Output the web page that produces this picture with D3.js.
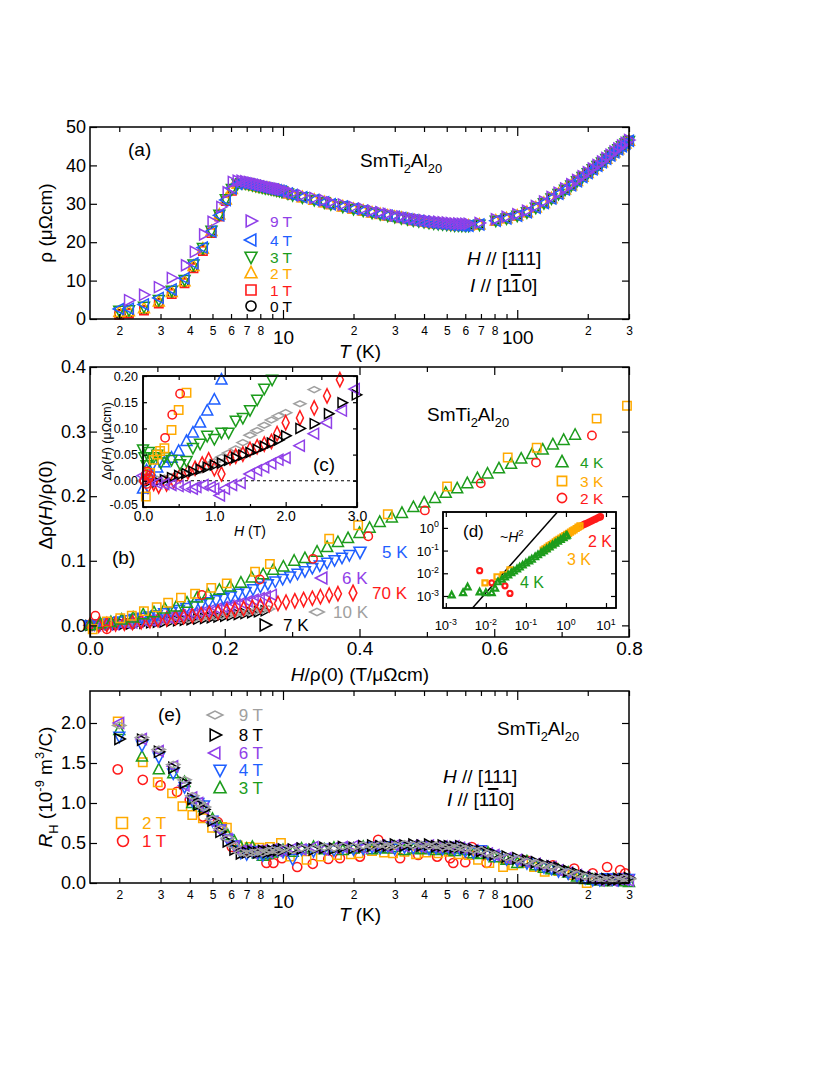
<!DOCTYPE html>
<html>
<head>
<meta charset="utf-8">
<script src="https://cdn.jsdelivr.net/npm/d3@7"></script>
<style>
  body { margin: 0; background: #fff; }
  svg text { font-family: "Liberation Sans", Arial, Helvetica, sans-serif; }
</style>
</head>
<body>
<svg id="fig" width="830" height="1075"></svg>
<script>
// ---------- panel (a): rho vs T ----------
var tA_low   = [2.0, 2.2, 2.55, 2.95, 3.35, 3.8, 4.15, 4.55, 4.95, 5.35, 5.7, 6.05];
var rho0T_low = [1.3, 1.5, 2.3, 4.2, 6.8, 9.6, 13.5, 18.0, 22.7, 27.0, 31.0, 33.6];
var rho1T_low = [1.1, 1.4, 2.2, 4.0, 6.5, 9.3, 13.2, 17.7, 22.4, 26.7, 30.7, 33.4];
var rho2T_low = [1.8, 2.0, 2.8, 4.5, 7.0, 9.8, 13.8, 18.3, 22.9, 27.2, 31.1, 33.8];
var rho3T_low = [2.2, 2.3, 3.2, 5.0, 7.4, 10.2, 14.2, 18.5, 23.0, 27.2, 31.2, 33.9];
var rho4T_low = [2.6, 2.7, 3.8, 5.5, 7.7, 10.6, 14.5, 18.6, 22.8, 27.0, 31.0, 34.0];
var tA9_low   = [2.2, 2.55, 2.95, 3.35, 3.85, 4.2, 4.6, 5.0, 5.45, 5.8, 6.1];
var rho9T_low = [4.9, 6.3, 8.3, 10.7, 14.0, 17.5, 22.0, 25.3, 29.2, 33.0, 35.7];

var tA_high = [6.4, 6.65, 6.9, 7.15, 7.4, 7.65, 7.9, 8.15, 8.4, 8.65, 8.9, 9.15, 9.4, 9.65, 9.9,
  10.5, 11.0, 12.1, 13.6, 15.0,
  16, 18, 20, 22, 24, 26, 28, 30, 32, 34, 36, 38, 40, 42, 44, 46, 48, 50, 52, 54, 56, 58, 60, 62,
  69, 81, 90,
  100, 110, 120, 130, 140, 150, 160, 170, 180, 190, 200, 210, 220, 230, 240, 250, 260, 270, 280, 290, 300];
// fields 0-4 T overlap above the peak
var rhoHigh = [35.2, 35.4, 35.3, 35.1, 34.9, 34.7, 34.5, 34.3, 34.1, 34.0, 33.8, 33.7, 33.5, 33.4, 33.2,
  32.7, 32.3, 31.7, 31.0, 30.4,
  29.9, 29.3, 28.7, 28.2, 27.7, 27.3, 26.9, 26.6, 26.3, 26.0, 25.7, 25.5, 25.3, 25.1, 24.9, 24.8, 24.7, 24.6, 24.5, 24.4, 24.4, 24.3, 24.3, 24.3,
  24.6, 25.6, 26.2,
  26.9, 27.8, 29.0, 30.2, 31.4, 32.6, 33.7, 34.8, 35.9, 37.0, 38.0, 39.0, 39.9, 40.8, 41.7, 42.6, 43.4, 44.2, 45.0, 45.7, 46.4];
var rho9T_high = [36.0, 36.0, 35.9, 35.7, 35.5, 35.3, 35.1, 34.9, 34.7, 34.5, 34.3, 34.2, 34.0, 33.9, 33.7,
  33.2, 32.8, 32.2, 31.5, 30.9,
  30.4, 29.8, 29.2, 28.7, 28.2, 27.8, 27.4, 27.0, 26.7, 26.4, 26.1, 25.9, 25.7, 25.5, 25.4, 25.3, 25.2, 25.1, 25.0, 24.9, 24.9, 24.8, 24.8, 24.8,
  25.0, 26.0, 26.6,
  27.3, 28.2, 29.4, 30.6, 31.8, 32.9, 34.0, 35.1, 36.2, 37.2, 38.2, 39.2, 40.1, 41.0, 41.9, 42.8, 43.6, 44.4, 45.2, 45.9, 46.6];

// ---------- panel (b): drho/rho0 vs H/rho0 ----------
var hB4 = [0, 0.015, 0.031, 0.047, 0.064, 0.079, 0.095, 0.111, 0.128, 0.144, 0.159, 0.175, 0.192, 0.208, 0.224, 0.24, 0.257, 0.272, 0.287, 0.303,
  0.319, 0.337, 0.352, 0.368, 0.383, 0.4, 0.415, 0.43, 0.448, 0.463, 0.48, 0.496, 0.512, 0.528, 0.545, 0.56, 0.575, 0.59, 0.607, 0.625,
  0.64, 0.656, 0.672, 0.687, 0.703, 0.72];
var dr4 = [0, 0.003, 0.005, 0.009, 0.012, 0.017, 0.02, 0.026, 0.029, 0.035, 0.043, 0.048, 0.055, 0.06, 0.066, 0.074, 0.079, 0.086, 0.091, 0.1,
  0.104, 0.114, 0.121, 0.129, 0.135, 0.143, 0.151, 0.16, 0.167, 0.174, 0.183, 0.19, 0.197, 0.205, 0.212, 0.22, 0.228, 0.235, 0.243, 0.25,
  0.258, 0.265, 0.272, 0.28, 0.287, 0.295];
var hB3 = [0.004, 0.025, 0.045, 0.062, 0.08, 0.099, 0.116, 0.135, 0.156, 0.18, 0.203, 0.245, 0.267, 0.355, 0.398, 0.442, 0.53, 0.62, 0.663, 0.752, 0.797];
var dr3 = [-0.006, 0.006, 0.011, 0.015, 0.022, 0.028, 0.035, 0.043, 0.049, 0.058, 0.065, 0.083, 0.095, 0.134, 0.155, 0.172, 0.215, 0.26, 0.275, 0.32, 0.34];
var hB2 = [0.008, 0.025, 0.166, 0.252, 0.331, 0.413, 0.497, 0.58, 0.662, 0.745];
var dr2 = [0.015, -0.006, 0.047, 0.071, 0.103, 0.138, 0.178, 0.22, 0.252, 0.294];
var hB5 = [0, 0.011, 0.022, 0.033, 0.044, 0.055, 0.066, 0.077, 0.088, 0.099, 0.11, 0.121, 0.132, 0.143, 0.154, 0.165, 0.176, 0.187,
  0.198, 0.209, 0.22, 0.231, 0.242, 0.253, 0.264, 0.275, 0.286, 0.297, 0.308, 0.319, 0.33, 0.341, 0.352, 0.363, 0.374, 0.385];
var dr5 = [0, 0.002, 0.003, 0.005, 0.006, 0.008, 0.01, 0.012, 0.014, 0.016, 0.019, 0.021, 0.024, 0.027, 0.03, 0.033, 0.036, 0.039,
  0.042, 0.045, 0.049, 0.052, 0.056, 0.06, 0.064, 0.068, 0.072, 0.076, 0.08, 0.084, 0.089, 0.093, 0.097, 0.101, 0.105, 0.109];
var hB6 = [0, 0.009, 0.018, 0.027, 0.036, 0.045, 0.054, 0.063, 0.072, 0.081, 0.09, 0.099, 0.108, 0.117, 0.126, 0.135, 0.144, 0.153,
  0.162, 0.171, 0.18, 0.189, 0.198, 0.207, 0.216, 0.225, 0.234, 0.243, 0.252, 0.261, 0.27];
var dr6 = [0, 0.0002, 0.0007, 0.0012, 0.0019, 0.0027, 0.0036, 0.0046, 0.0056, 0.0068, 0.008, 0.0093, 0.0107, 0.0122, 0.0137, 0.0153,
  0.017, 0.0187, 0.0205, 0.0224, 0.0243, 0.0263, 0.0284, 0.0305, 0.0327, 0.035, 0.0373, 0.0397, 0.0421, 0.0446, 0.0472];
var hB7 = [0, 0.01, 0.02, 0.03, 0.04, 0.05, 0.06, 0.07, 0.08, 0.09, 0.1, 0.11, 0.12, 0.13, 0.14, 0.15, 0.16, 0.17, 0.18, 0.19,
  0.2, 0.21, 0.22, 0.23, 0.24, 0.25, 0.26];
var dr7 = [0, 0.0003, 0.0006, 0.001, 0.0014, 0.0018, 0.0023, 0.0028, 0.0034, 0.004, 0.0047, 0.0054, 0.0062, 0.007, 0.0079, 0.0088,
  0.0098, 0.0108, 0.0119, 0.013, 0.0142, 0.0155, 0.0168, 0.0182, 0.0196, 0.021, 0.0225];
var hB10 = [0.005, 0.015, 0.025, 0.035, 0.045, 0.055, 0.065, 0.075, 0.085, 0.095, 0.105, 0.115, 0.125, 0.135, 0.145, 0.155, 0.165,
  0.175, 0.185, 0.195, 0.205, 0.215, 0.225, 0.235, 0.245, 0.255, 0.265];
var dr10 = [0.0002, 0.0005, 0.0009, 0.0013, 0.0018, 0.0023, 0.0029, 0.0035, 0.0042, 0.0049, 0.0057, 0.0065, 0.0074, 0.0083, 0.0093,
  0.0103, 0.0114, 0.0125, 0.0137, 0.0149, 0.0162, 0.0176, 0.019, 0.0205, 0.022, 0.0236, 0.0255];
var hB70 = [0, 0.013, 0.025, 0.038, 0.051, 0.063, 0.076, 0.089, 0.101, 0.114, 0.127, 0.139, 0.152, 0.165, 0.177, 0.19, 0.203, 0.215,
  0.228, 0.241, 0.253, 0.266, 0.279, 0.291, 0.304, 0.317, 0.33, 0.342, 0.355, 0.368];
var dr70 = [0, 0.0005, 0.0012, 0.0022, 0.0033, 0.0045, 0.0058, 0.0072, 0.0087, 0.0102, 0.0118, 0.0134, 0.0151, 0.0168, 0.0186, 0.0204,
  0.0222, 0.0241, 0.026, 0.028, 0.030, 0.032, 0.034, 0.036, 0.038, 0.040, 0.042, 0.0445, 0.0468, 0.049];

// ---------- inset (c): drho vs H ----------
var hC2 = [0.02, 0.04, 0.05, 0.06, 0.08, 0.1, 0.31, 0.41, 0.52];
var dC2 = [0.0, 0.012, -0.006, 0.018, 0.005, 0.01, 0.082, 0.126, 0.166];
var hC3 = [0.04, 0.1, 0.15, 0.2, 0.24, 0.3, 0.4, 0.5, 0.61];
var dC3 = [-0.03, 0.015, 0.04, 0.05, 0.057, 0.062, 0.097, 0.135, 0.168];
var hC4 = [0.0, 0.05, 0.1, 0.2, 0.3, 0.4, 0.5, 0.61, 0.7, 0.8, 0.9, 1.0, 1.1];
var dC4 = [-0.015, 0.02, 0.018, 0.025, 0.035, 0.044, 0.057, 0.076, 0.092, 0.111, 0.134, 0.155, 0.193];
var hC5 = [0.0, 0.02, 0.05, 0.08, 0.1, 0.15, 0.2, 0.25, 0.3, 0.4, 0.52, 0.61, 0.7, 0.8, 0.9, 1.0, 1.1, 1.2, 1.3, 1.4, 1.5, 1.6, 1.7, 1.81];
var dC5 = [0.06, 0.045, 0.03, 0.055, 0.04, 0.045, 0.05, 0.035, 0.045, 0.04, 0.032, 0.038, 0.063, 0.071, 0.086, 0.08, 0.092, 0.092,
  0.115, 0.12, 0.135, 0.155, 0.176, 0.193];
var hC6 = [0.0, 0.05, 0.1, 0.2, 0.3, 0.4, 0.5, 0.6, 0.7, 0.75, 0.85, 0.95, 1.0, 1.08, 1.15, 1.25, 1.37, 1.5, 1.6, 1.7,
  1.8, 1.9, 2.0, 2.2, 2.4, 2.58, 2.79, 2.97];
var dC6 = [0.01, 0.005, 0.0, -0.004, -0.006, -0.008, -0.01, -0.012, -0.015, -0.012, -0.008, -0.012, -0.015, -0.028, -0.015, -0.008,
  -0.004, 0.013, 0.02, 0.026, 0.033, 0.04, 0.044, 0.067, 0.09, 0.111, 0.134, 0.175];
var hC7 = [0.1, 0.2, 0.3, 0.4, 0.5, 0.6, 0.7, 0.8, 0.9, 1.0, 1.1, 1.2, 1.3, 1.4, 1.5, 1.6, 1.7, 1.8, 1.9, 2.0, 2.2, 2.4, 2.6, 2.79, 2.99];
var dC7 = [0.0, -0.002, 0.002, 0.006, 0.01, 0.014, 0.018, 0.022, 0.026, 0.03, 0.034, 0.039, 0.044, 0.049, 0.054, 0.06, 0.066,
  0.072, 0.078, 0.086, 0.1, 0.109, 0.128, 0.149, 0.164];
var hC10 = [0.0, 0.1, 0.2, 0.3, 0.4, 0.5, 0.6, 0.7, 0.8, 0.9, 1.0, 1.1, 1.2, 1.3, 1.4, 1.5, 1.6, 1.7, 1.8, 1.9, 2.0, 2.2, 2.4];
var dC10 = [0, 0.001, 0.003, 0.005, 0.008, 0.011, 0.014, 0.017, 0.02, 0.028, 0.036, 0.045, 0.053, 0.061, 0.073, 0.087, 0.096,
  0.106, 0.116, 0.124, 0.13, 0.147, 0.174];
var hC70 = [0.0, 0.07, 0.15, 0.22, 0.33, 0.43, 0.52, 0.63, 0.73, 0.83, 0.92, 1.0, 1.1, 1.22, 1.3, 1.4, 1.5, 1.6, 1.7, 1.8,
  1.88, 2.0, 2.2, 2.4, 2.58, 2.76];
var dC70 = [0.0, -0.01, -0.005, -0.01, -0.006, 0.0, 0.01, 0.017, 0.024, 0.032, 0.04, 0.023, 0.013, 0.044, 0.047, 0.051, 0.06,
  0.065, 0.07, 0.075, 0.09, 0.111, 0.12, 0.139, 0.162, 0.193];

// ---------- inset (d): log-log ----------
var dGx = [0.0014, 0.0027, 0.0035, 0.007, 0.01, 0.014, 0.017, 0.02, 0.025, 0.03, 0.036, 0.043, 0.05, 0.06, 0.07, 0.083, 0.1,
  0.12, 0.14, 0.17, 0.2, 0.24, 0.28, 0.33, 0.39, 0.46, 0.54, 0.63, 0.74, 0.87, 1.0, 1.06];
var dGy = [0.0011, 0.0014, 0.0025, 0.0015, 0.0014, 0.0014, 0.0022, 0.0042, 0.0054, 0.0068, 0.0084, 0.0105, 0.0125, 0.0155,
  0.0187, 0.023, 0.0285, 0.035, 0.042, 0.053, 0.065, 0.08, 0.097, 0.118, 0.144, 0.176, 0.213, 0.255, 0.31, 0.37, 0.44, 0.47];
var dOx = [0.0095, 0.019, 0.027, 0.04, 0.27, 0.3, 0.34, 0.38, 0.43, 0.48, 0.54, 0.6, 0.67, 0.75, 0.84, 0.94, 1.05, 1.17, 1.3,
  1.45, 1.6, 1.8, 2.0, 2.24];
var dOy = [0.0038, 0.007, 0.0085, 0.014, 0.105, 0.12, 0.14, 0.16, 0.185, 0.21, 0.245, 0.28, 0.315, 0.355, 0.405, 0.46, 0.52,
  0.58, 0.65, 0.73, 0.82, 0.94, 1.07, 1.23];
var dRx = [0.007, 0.014, 0.03, 0.04, 2.1, 2.4, 2.7, 3.0, 3.4, 3.8, 4.3, 4.8, 5.4, 6.1, 6.8, 7.3];
var dRy = [0.013, 0.0038, 0.0028, 0.0013, 1.1, 1.24, 1.36, 1.49, 1.64, 1.81, 2.0, 2.2, 2.43, 2.7, 2.95, 3.1];
var h2x = [0.0047, 0.6];
var h2y = [0.0003, 4.8];

// ---------- panel (e): Hall coefficient ----------
var tE = [2.0, 2.5, 2.95, 3.4, 3.8, 4.1, 4.35, 4.6, 5.0, 5.4, 5.8, 6.2, 6.6, 7.0, 7.4, 7.8, 8.2, 8.6, 9.0, 9.5,
  10, 11, 12, 13.5, 15, 16.5, 18, 20, 22, 24, 26, 28, 30, 33, 36, 39, 42, 45, 48, 51,
  54, 57, 60, 65, 70, 75, 80, 90, 100, 110, 120, 130, 140, 150, 165, 180, 195, 210, 225, 240, 255, 270, 285, 300];
var rE8 = [1.80, 1.79, 1.64, 1.44, 1.25, 1.05, 0.98, 0.92, 0.78, 0.64, 0.52, 0.42, 0.37, 0.38, 0.39, 0.38, 0.40, 0.39, 0.40, 0.41,
  0.42, 0.42, 0.43, 0.42, 0.44, 0.43, 0.45, 0.44, 0.46, 0.47, 0.46, 0.47, 0.48, 0.47, 0.48, 0.47, 0.48, 0.46, 0.47, 0.46,
  0.45, 0.46, 0.44, 0.42, 0.40, 0.38, 0.36, 0.33, 0.31, 0.28, 0.26, 0.23, 0.21, 0.19, 0.15, 0.12, 0.09, 0.07, 0.05, 0.05,
  0.04, 0.05, 0.05, 0.06];
var rE9 = [1.97, 1.82, 1.67, 1.48, 1.29, 1.09, 1.0, 0.95, 0.8, 0.68, 0.56, 0.46, 0.38, 0.37, 0.38, 0.39, 0.38, 0.40, 0.41, 0.40,
  0.43, 0.41, 0.44, 0.43, 0.45, 0.44, 0.46, 0.45, 0.47, 0.46, 0.48, 0.46, 0.47, 0.49, 0.47, 0.48, 0.46, 0.47, 0.45, 0.46,
  0.44, 0.45, 0.43, 0.41, 0.41, 0.37, 0.35, 0.32, 0.30, 0.27, 0.25, 0.22, 0.2, 0.17, 0.14, 0.11, 0.08, 0.06, 0.06, 0.04,
  0.05, 0.04, 0.06, 0.05];
var rE6 = [2.0, 1.80, 1.65, 1.46, 1.22, 1.07, 1.0, 0.93, 0.76, 0.66, 0.55, 0.46, 0.40, 0.41, 0.38, 0.40, 0.41, 0.39, 0.42, 0.40,
  0.41, 0.43, 0.42, 0.45, 0.42, 0.44, 0.45, 0.46, 0.44, 0.46, 0.47, 0.45, 0.47, 0.46, 0.47, 0.45, 0.47, 0.45, 0.46, 0.44,
  0.46, 0.44, 0.43, 0.41, 0.39, 0.37, 0.35, 0.31, 0.29, 0.26, 0.24, 0.21, 0.2, 0.16, 0.13, 0.1, 0.08, 0.05, 0.03, 0.04,
  0.03, 0.05, 0.04, 0.03];
var rE4 = [1.83, 1.72, 1.57, 1.37, 1.2, 1.03, 1.0, 0.97, 0.78, 0.67, 0.55, 0.47, 0.38, 0.36, 0.40, 0.37, 0.35, 0.38, 0.39, 0.41,
  0.39, 0.30, 0.42, 0.40, 0.43, 0.41, 0.44, 0.42, 0.43, 0.45, 0.44, 0.46, 0.43, 0.45, 0.44, 0.46, 0.43, 0.44, 0.43, 0.45,
  0.42, 0.43, 0.40, 0.38, 0.41, 0.36, 0.34, 0.30, 0.28, 0.25, 0.23, 0.2, 0.18, 0.15, 0.12, 0.09, 0.06, 0.04, 0.04, 0.06,
  0.05, 0.04, 0.06, 0.05];
var rE3 = [1.91, 1.58, 1.42, 1.37, 1.26, 1.0, 0.98, 0.95, 0.8, 0.7, 0.6, 0.52, 0.45, 0.43, 0.45, 0.37, 0.34, 0.36, 0.38, 0.40,
  0.41, 0.39, 0.43, 0.45, 0.42, 0.44, 0.41, 0.43, 0.45, 0.42, 0.44, 0.43, 0.45, 0.41, 0.43, 0.42, 0.44, 0.41, 0.43, 0.42,
  0.40, 0.43, 0.41, 0.37, 0.36, 0.38, 0.32, 0.29, 0.25, 0.27, 0.22, 0.19, 0.17, 0.16, 0.13, 0.08, 0.05, 0.04, 0.03, 0.02,
  0.04, 0.03, 0.02, 0.01];
var tE2 = [1.97, 2.52, 2.92, 3.36, 3.72, 4.1, 4.55, 4.98, 5.5, 5.76, 6.4, 7.2, 7.95, 8.8, 9.8, 10.7, 12.6, 14.5, 17, 19.5,
  21, 24, 27, 29.5, 33, 37, 41, 46, 51, 56, 62, 68, 76, 87, 96, 106, 118, 131, 150, 172, 198, 225, 255, 285];
var rE2 = [2.02, 1.51, 1.26, 1.12, 0.96, 0.85, 0.81, 0.69, 0.7, 0.69, 0.47, 0.45, 0.44, 0.45, 0.5, 0.33, 0.29, 0.33, 0.35, 0.36,
  0.37, 0.4, 0.38, 0.37, 0.39, 0.36, 0.38, 0.37, 0.39, 0.36, 0.35, 0.29, 0.25, 0.2, 0.22, 0.25, 0.2, 0.14, 0.15, 0.1,
  0.0, 0.04, 0.06, 0.03];
var tE1 = [1.97, 2.52, 3.0, 3.53, 4.0, 4.55, 5.27, 6.05, 6.9, 8.5, 9.1, 9.9, 11.5, 13.4, 15.6, 17.5, 21.3, 25.5, 31.6, 37.8,
  45.5, 51.7, 53.3, 60, 64, 74, 88, 110, 142, 175, 210, 242, 275, 289];
var rE1 = [1.42, 1.29, 1.22, 1.14, 1.04, 0.83, 0.76, 0.45, 0.41, 0.25, 0.25, 0.31, 0.2, 0.24, 0.3, 0.31, 0.33, 0.54, 0.31, 0.35,
  0.33, 0.31, 0.25, 0.26, 0.45, 0.25, 0.3, 0.28, 0.22, 0.18, 0.12, 0.2, 0.16, 0.12];

var logMinor = [2, 3, 4, 5, 6, 7, 8, 9, 20, 30, 40, 50, 60, 70, 80, 90, 200, 300];
var logMajor = [10, 100];

var COL = { k: '#000000', r: '#ff1a1a', o: '#ffaa00', g: '#1c9c1c', b: '#1f5fff', p: '#9040e8', gy: '#a0a0a0' };

var svg = d3.select('#fig');

// scales
var xA = d3.scaleLog().domain([1.5, 300]).range([90, 629]);
var yA = d3.scaleLinear().domain([0, 50]).range([319, 127]);
var xB = d3.scaleLinear().domain([0, 0.8]).range([90, 629]);
var yB = d3.scaleLinear().domain([-0.018, 0.4]).range([637, 367]);
var xC = d3.scaleLinear().domain([0, 3]).range([143, 357]);
var yC = d3.scaleLinear().domain([-0.05, 0.2]).range([507, 376]);
var xD = d3.scaleLog().domain([Math.pow(10, -3.07), Math.pow(10, 1.25)]).range([443, 616]);
var yD = d3.scaleLog().domain([Math.pow(10, -3.53), Math.pow(10, 0.7)]).range([608, 512]);
var xE = d3.scaleLog().domain([1.5, 300]).range([90, 629]);
var yE = d3.scaleLinear().domain([0, 2.4]).range([883, 691]);

function symbol(type, s) {
  var a = s * 0.42;
  switch (type) {
    case 'circle': return 'M' + a + ',0A' + a + ',' + a + ' 0 1,1 ' + (-a) + ',0A' + a + ',' + a + ' 0 1,1 ' + a + ',0Z';
    case 'square': return 'M' + (-a) + ',' + (-a) + 'H' + a + 'V' + a + 'H' + (-a) + 'Z';
    case 'up': return 'M0,' + (-0.55 * s) + 'L' + (0.5 * s) + ',' + (0.4 * s) + 'L' + (-0.5 * s) + ',' + (0.4 * s) + 'Z';
    case 'down': return 'M0,' + (0.55 * s) + 'L' + (0.5 * s) + ',' + (-0.4 * s) + 'L' + (-0.5 * s) + ',' + (-0.4 * s) + 'Z';
    case 'left': return 'M' + (-0.55 * s) + ',0L' + (0.4 * s) + ',' + (-0.5 * s) + 'L' + (0.4 * s) + ',' + (0.5 * s) + 'Z';
    case 'right': return 'M' + (0.55 * s) + ',0L' + (-0.4 * s) + ',' + (-0.5 * s) + 'L' + (-0.4 * s) + ',' + (0.5 * s) + 'Z';
    case 'tall': return 'M0,' + (-0.65 * s) + 'L' + (0.32 * s) + ',0L0,' + (0.65 * s) + 'L' + (-0.32 * s) + ',0Z';
    case 'wide': return 'M' + (-0.6 * s) + ',0L0,' + (-0.3 * s) + 'L' + (0.6 * s) + ',0L0,' + (0.3 * s) + 'Z';
  }
}

function plot(g, xs, ys, sx, sy, type, color, size, sw) {
  g.append('g').selectAll('path')
    .data(d3.zip(xs, ys))
    .join('path')
    .attr('d', symbol(type, size))
    .attr('transform', function(d) { return 'translate(' + sx(d[0]) + ',' + sy(d[1]) + ')'; })
    .attr('fill', 'none')
    .attr('stroke', color)
    .attr('stroke-width', sw || 1.5);
}

function legendRow(g, mx, my, type, color, size, label, tx, anchor, fs) {
  g.append('path').attr('d', symbol(type, size))
    .attr('transform', 'translate(' + mx + ',' + my + ')')
    .attr('fill', 'none').attr('stroke', color).attr('stroke-width', 1.6);
  g.append('text').attr('x', tx).attr('y', my + fs * 0.36)
    .attr('text-anchor', anchor).attr('font-size', fs).attr('fill', color).text(label);
}

function rich(g, x, y, parts, size, o) {
  o = o || {};
  var t = g.append('text').attr('x', x).attr('y', y)
    .attr('font-size', size).attr('fill', o.fill || '#000')
    .attr('text-anchor', o.anchor || 'start');
  if (o.rot) t.attr('transform', 'rotate(' + o.rot + ',' + x + ',' + y + ')');
  var cur = 0;
  parts.forEach(function(p) {
    if (typeof p === 'string') p = { t: p };
    var off = p.sub ? size * 0.3 : p.sup ? -size * 0.42 : 0;
    var s = t.append('tspan').attr('dy', off - cur).text(p.t);
    cur = off;
    if (p.sub || p.sup) s.attr('font-size', size * 0.68);
    if (p.it) s.attr('font-style', 'italic');
    if (p.ol) s.style('text-decoration', 'overline');
  });
  return t;
}

function styleAxis(sel, fs) {
  sel.select('.domain').remove();
  sel.selectAll('line').attr('stroke', '#000').attr('stroke-width', 1.2);
  sel.selectAll('text').attr('font-size', fs)
    .attr('font-family', '"Liberation Sans", Arial, sans-serif').attr('fill', '#000');
}

function frame(g, x0, y0, x1, y1, fill) {
  g.append('rect').attr('x', x0).attr('y', y0).attr('width', x1 - x0).attr('height', y1 - y0)
    .attr('fill', fill || 'none').attr('stroke', '#000').attr('stroke-width', 1.5);
}

function logAxis(g, sx, yBot, yTop) {
  var lab = function(v) { return (v === 9 || v === 90) ? '' : String(v).charAt(0); };
  g.append('g').attr('transform', 'translate(0,' + yBot + ')')
    .call(d3.axisBottom(sx).tickValues(logMinor).tickSize(-5).tickPadding(7).tickFormat(lab))
    .call(function(s) { styleAxis(s, 12); });
  g.append('g').attr('transform', 'translate(0,' + yBot + ')')
    .call(d3.axisBottom(sx).tickValues(logMajor).tickSize(-9).tickPadding(12).tickFormat(d3.format('d')))
    .call(function(s) { styleAxis(s, 19); });
  g.append('g').attr('transform', 'translate(0,' + yTop + ')')
    .call(d3.axisTop(sx).tickValues(logMinor).tickSize(-5).tickFormat(''))
    .call(function(s) { styleAxis(s, 12); });
  g.append('g').attr('transform', 'translate(0,' + yTop + ')')
    .call(d3.axisTop(sx).tickValues(logMajor).tickSize(-9).tickFormat(''))
    .call(function(s) { styleAxis(s, 12); });
}

function yAxes(g, sy, vals, xl, xr, fmt, fs, len) {
  g.append('g').attr('transform', 'translate(' + xl + ',0)')
    .call(d3.axisLeft(sy).tickValues(vals).tickSize(-len).tickPadding(4).tickFormat(fmt))
    .call(function(s) { styleAxis(s, fs); });
  g.append('g').attr('transform', 'translate(' + xr + ',0)')
    .call(d3.axisRight(sy).tickValues(vals).tickSize(-len).tickFormat(''))
    .call(function(s) { styleAxis(s, fs); });
}

// =================== (a) ===================
var gA = svg.append('g');
plot(gA, tA_low, rho0T_low, xA, yA, 'circle', COL.k, 10);
plot(gA, tA_high, rhoHigh, xA, yA, 'circle', COL.k, 10);
plot(gA, tA_low, rho1T_low, xA, yA, 'square', COL.r, 10);
plot(gA, tA_high, rhoHigh, xA, yA, 'square', COL.r, 10);
plot(gA, tA_low, rho2T_low, xA, yA, 'up', COL.o, 11);
plot(gA, tA_high, rhoHigh, xA, yA, 'up', COL.o, 11);
plot(gA, tA_low, rho3T_low, xA, yA, 'down', COL.g, 11);
plot(gA, tA_high, rhoHigh, xA, yA, 'down', COL.g, 11);
plot(gA, tA_low, rho4T_low, xA, yA, 'left', COL.b, 11);
plot(gA, tA_high, rhoHigh, xA, yA, 'left', COL.b, 11);
plot(gA, tA9_low, rho9T_low, xA, yA, 'right', COL.p, 11);
plot(gA, tA_high, rho9T_high, xA, yA, 'right', COL.p, 11);

frame(gA, 90, 127, 629, 319);
logAxis(gA, xA, 319, 127);
yAxes(gA, yA, [0, 10, 20, 30, 40, 50], 90, 629, d3.format('d'), 18, 7);

var legA = [['right', COL.p, '9 T', 221], ['left', COL.b, '4 T', 240], ['down', COL.g, '3 T', 257],
            ['up', COL.o, '2 T', 273], ['square', COL.r, '1 T', 290], ['circle', COL.k, '0 T', 306]];
legA.forEach(function(r) { legendRow(gA, 251, r[3], r[0], r[1], 12, r[2], 292, 'end', 15.5); });

rich(gA, 128, 156, ['(a)'], 19);
rich(gA, 360, 167, ['SmTi', { t: '2', sub: 1 }, 'Al', { t: '20', sub: 1 }], 19);
rich(gA, 467, 265, [{ t: 'H', it: 1 }, ' // [111]'], 19);
rich(gA, 470, 292, [{ t: 'I', it: 1 }, ' // [1', { t: '1', ol: 1 }, '0]'], 19);
rich(gA, 360, 358, [{ t: 'T', it: 1 }, ' (K)'], 19, { anchor: 'middle' });
rich(gA, 52, 223, ['ρ (μΩcm)'], 19, { anchor: 'middle', rot: -90 });

// =================== (b) ===================
var gB = svg.append('g');
plot(gB, hB7, dr7, xB, yB, 'right', COL.k, 10);
plot(gB, hB10, dr10, xB, yB, 'wide', COL.gy, 10);
plot(gB, hB6, dr6, xB, yB, 'left', COL.p, 11);
plot(gB, hB5, dr5, xB, yB, 'down', COL.b, 11);
plot(gB, hB70, dr70, xB, yB, 'tall', COL.r, 11);
plot(gB, hB4, dr4, xB, yB, 'up', COL.g, 11);
plot(gB, hB3, dr3, xB, yB, 'square', COL.o, 10);
plot(gB, hB2, dr2, xB, yB, 'circle', COL.r, 10);

frame(gB, 90, 367, 629, 637);
gB.append('g').attr('transform', 'translate(0,637)')
  .call(d3.axisBottom(xB).tickValues([0, 0.2, 0.4, 0.6, 0.8]).tickSize(-8).tickPadding(5).tickFormat(d3.format('.1f')))
  .call(function(s) { styleAxis(s, 19); });
gB.append('g').attr('transform', 'translate(0,637)')
  .call(d3.axisBottom(xB).tickValues([0.1, 0.3, 0.5, 0.7]).tickSize(-5).tickFormat(''))
  .call(function(s) { styleAxis(s, 12); });
gB.append('g').attr('transform', 'translate(0,367)')
  .call(d3.axisTop(xB).tickValues([0, 0.2, 0.4, 0.6, 0.8]).tickSize(-8).tickFormat(''))
  .call(function(s) { styleAxis(s, 12); });
gB.append('g').attr('transform', 'translate(0,367)')
  .call(d3.axisTop(xB).tickValues([0.1, 0.3, 0.5, 0.7]).tickSize(-5).tickFormat(''))
  .call(function(s) { styleAxis(s, 12); });
yAxes(gB, yB, [0, 0.1, 0.2, 0.3, 0.4], 90, 629, d3.format('.1f'), 18, 7);

legendRow(gB, 360, 552, 'down', COL.b, 12, '5 K', 382, 'start', 17);
legendRow(gB, 322, 578, 'left', COL.p, 12, '6 K', 342, 'start', 17);
legendRow(gB, 353, 593, 'tall', COL.r, 12, '70 K', 372, 'start', 17);
legendRow(gB, 317, 612, 'wide', COL.gy, 12, '10 K', 333, 'start', 17);
legendRow(gB, 265, 625, 'right', COL.k, 12, '7 K', 283, 'start', 17);
legendRow(gB, 562, 462, 'up', COL.g, 12, '4 K', 580, 'start', 15.5);
legendRow(gB, 562, 481, 'square', COL.o, 11, '3 K', 580, 'start', 15.5);
legendRow(gB, 562, 498, 'circle', COL.r, 11, '2 K', 580, 'start', 15.5);

rich(gB, 112, 564, ['(b)'], 19);
rich(gB, 427, 421, ['SmTi', { t: '2', sub: 1 }, 'Al', { t: '20', sub: 1 }], 19);
rich(gB, 360, 681, [{ t: 'H', it: 1 }, '/ρ(0) (T/μΩcm)'], 19, { anchor: 'middle' });
rich(gB, 52, 505, ['Δρ(', { t: 'H', it: 1 }, ')/ρ(0)'], 19, { anchor: 'middle', rot: -90 });

// ---- inset (c) ----
var gC = svg.append('g');
frame(gC, 143, 376, 357, 507, '#fff');
gC.append('line').attr('x1', xC(0)).attr('x2', xC(3)).attr('y1', yC(0)).attr('y2', yC(0))
  .attr('stroke', '#000').attr('stroke-width', 1.1).attr('stroke-dasharray', '3,3');
plot(gC, hC10, dC10, xC, yC, 'wide', COL.gy, 10);
plot(gC, hC70, dC70, xC, yC, 'tall', COL.r, 11);
plot(gC, hC7, dC7, xC, yC, 'right', COL.k, 10);
plot(gC, hC6, dC6, xC, yC, 'left', COL.p, 11);
plot(gC, hC4, dC4, xC, yC, 'up', COL.b, 11);
plot(gC, hC5, dC5, xC, yC, 'down', COL.g, 11);
plot(gC, hC3, dC3, xC, yC, 'square', COL.o, 10);
plot(gC, hC2, dC2, xC, yC, 'circle', COL.r, 10);
frame(gC, 143, 376, 357, 507);
var fmt2 = function(v) { return v.toFixed(2); };
gC.append('g').attr('transform', 'translate(143,0)')
  .call(d3.axisLeft(yC).tickValues([-0.05, 0, 0.05, 0.1, 0.15, 0.2]).tickSize(-4).tickPadding(5).tickFormat(fmt2))
  .call(function(s) { styleAxis(s, 12.5); });
gC.selectAll('.tick text').filter(function(d) { return d === -0.05; }).attr('dy', '0.1em');
gC.append('g').attr('transform', 'translate(357,0)')
  .call(d3.axisRight(yC).tickValues([-0.05, 0, 0.05, 0.1, 0.15, 0.2]).tickSize(-4).tickFormat(''))
  .call(function(s) { styleAxis(s, 13); });
gC.append('g').attr('transform', 'translate(0,507)')
  .call(d3.axisBottom(xC).tickValues([0, 1, 2, 3]).tickSize(-5).tickPadding(4).tickFormat(d3.format('.1f')))
  .call(function(s) { styleAxis(s, 14); });
gC.append('g').attr('transform', 'translate(0,507)')
  .call(d3.axisBottom(xC).tickValues([0.5, 1.5, 2.5]).tickSize(-3).tickFormat(''))
  .call(function(s) { styleAxis(s, 14); });
gC.append('g').attr('transform', 'translate(0,376)')
  .call(d3.axisTop(xC).tickValues([0, 0.5, 1, 1.5, 2, 2.5, 3]).tickSize(-4).tickFormat(''))
  .call(function(s) { styleAxis(s, 14); });
rich(gC, 313, 471, ['(c)'], 19);
rich(gC, 250, 536, [{ t: 'H', it: 1 }, ' (T)'], 14, { anchor: 'middle' });
rich(gC, 111, 441, ['Δρ(', { t: 'H', it: 1 }, ') (μΩcm)'], 12.5, { anchor: 'middle', rot: -90 });

// ---- inset (d) ----
var gD = svg.append('g');
frame(gD, 443, 512, 616, 608, '#fff');
gD.append('clipPath').attr('id', 'clipD').append('rect')
  .attr('x', 443).attr('y', 512).attr('width', 173).attr('height', 96);
gD.append('path').datum(d3.zip(h2x, h2y))
  .attr('d', d3.line().x(function(d) { return xD(d[0]); }).y(function(d) { return yD(d[1]); }))
  .attr('clip-path', 'url(#clipD)')
  .attr('stroke', '#000').attr('stroke-width', 1.4).attr('fill', 'none');
var gDd = gD.append('g').attr('clip-path', 'url(#clipD)');
plot(gDd, dRx, dRy, xD, yD, 'circle', COL.r, 6, 2.2);
plot(gDd, dOx, dOy, xD, yD, 'square', COL.o, 6, 2.2);
plot(gDd, dGx, dGy, xD, yD, 'up', COL.g, 6, 2.2);
frame(gD, 443, 512, 616, 608);
var decX = [1e-3, 1e-2, 1e-1, 1, 10];
var decY = [1e-3, 1e-2, 1e-1, 1];
var decExp = function(v) { return String(Math.round(Math.log10(v))); };
gD.append('g').attr('transform', 'translate(0,608)')
  .call(d3.axisBottom(xD).tickValues(decX).tickSize(-5).tickFormat('')).call(function(s) { styleAxis(s, 12); });
gD.append('g').attr('transform', 'translate(0,512)')
  .call(d3.axisTop(xD).tickValues(decX).tickSize(-5).tickFormat('')).call(function(s) { styleAxis(s, 12); });
gD.append('g').attr('transform', 'translate(443,0)')
  .call(d3.axisLeft(yD).tickValues(decY).tickSize(-5).tickFormat('')).call(function(s) { styleAxis(s, 12); });
gD.append('g').attr('transform', 'translate(616,0)')
  .call(d3.axisRight(yD).tickValues(decY).tickSize(-5).tickFormat('')).call(function(s) { styleAxis(s, 12); });
decX.forEach(function(v) { rich(gD, xD(v), 630, ['10', { t: decExp(v), sup: 1 }], 13, { anchor: 'middle' }); });
decY.forEach(function(v) { rich(gD, 439, yD(v) + 5, ['10', { t: decExp(v), sup: 1 }], 13, { anchor: 'end' }); });
rich(gD, 463, 537, ['(d)'], 17);
rich(gD, 500, 542, ['~', { t: 'H', it: 1 }, { t: '2', sup: 1 }], 14);
rich(gD, 588, 547, ['2 K'], 16, { fill: COL.r });
rich(gD, 567, 565, ['3 K'], 16, { fill: COL.o });
rich(gD, 520, 588, ['4 K'], 16, { fill: COL.g });

// =================== (e) ===================
var gE = svg.append('g');
plot(gE, tE1, rE1, xE, yE, 'circle', COL.r, 11);
plot(gE, tE2, rE2, xE, yE, 'square', COL.o, 10);
plot(gE, tE, rE3, xE, yE, 'up', COL.g, 11);
plot(gE, tE, rE4, xE, yE, 'down', COL.b, 11);
plot(gE, tE, rE6, xE, yE, 'left', COL.p, 11);
plot(gE, tE, rE8, xE, yE, 'right', COL.k, 11);
plot(gE, tE, rE9, xE, yE, 'wide', COL.gy, 11);

frame(gE, 90, 691, 629, 883);
logAxis(gE, xE, 883, 691);
yAxes(gE, yE, [0, 0.5, 1.0, 1.5, 2.0], 90, 629, d3.format('.1f'), 18, 7);

legendRow(gE, 215, 715, 'wide', COL.gy, 13, '9 T', 263, 'end', 17);
legendRow(gE, 215, 735, 'right', COL.k, 12, '8 T', 263, 'end', 17);
legendRow(gE, 215, 753, 'left', COL.p, 12, '6 T', 263, 'end', 17);
legendRow(gE, 220, 770, 'down', COL.b, 12, '4 T', 263, 'end', 17);
legendRow(gE, 220, 788, 'up', COL.g, 12, '3 T', 263, 'end', 17);
legendRow(gE, 122, 823, 'square', COL.o, 13, '2 T', 142, 'start', 17);
legendRow(gE, 123, 841, 'circle', COL.r, 13, '1 T', 142, 'start', 17);

rich(gE, 158, 721, ['(e)'], 19);
rich(gE, 497, 735, ['SmTi', { t: '2', sub: 1 }, 'Al', { t: '20', sub: 1 }], 19);
rich(gE, 443, 783, [{ t: 'H', it: 1 }, ' // [111]'], 19);
rich(gE, 447, 806, [{ t: 'I', it: 1 }, ' // [1', { t: '1', ol: 1 }, '0]'], 19);
rich(gE, 360, 921, [{ t: 'T', it: 1 }, ' (K)'], 19, { anchor: 'middle' });
rich(gE, 52, 787, [{ t: 'R', it: 1 }, { t: 'H', sub: 1 }, ' (10', { t: '-9', sup: 1 }, ' m', { t: '3', sup: 1 }, '/C)'], 19,
  { anchor: 'middle', rot: -90 });
</script>
</body>
</html>
